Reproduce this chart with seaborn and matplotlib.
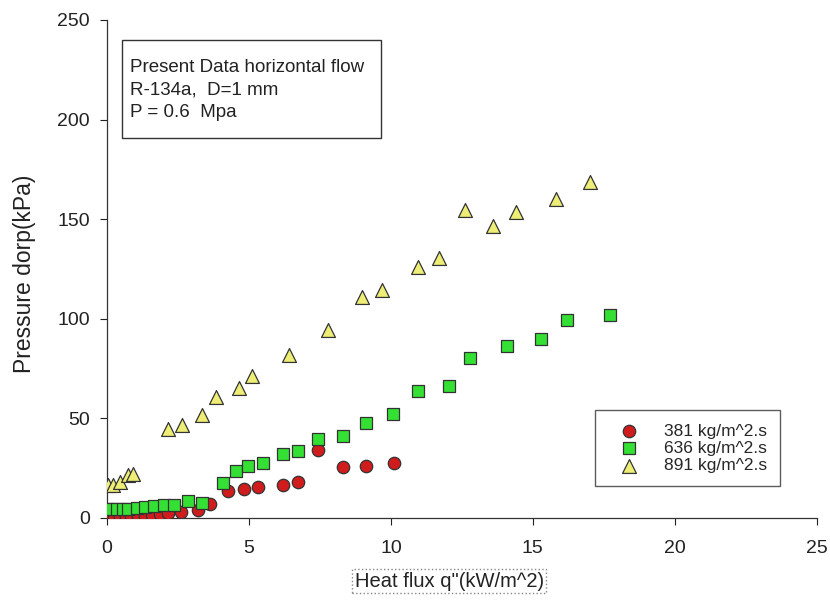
import numpy as np
import pandas as pd
import seaborn as sns
import matplotlib.pyplot as plt
from matplotlib.patches import Rectangle

# data
x381 = [0.05, 0.25, 0.45, 0.65, 0.85, 1.1, 1.35, 1.6, 1.87, 2.15, 2.6, 3.2, 3.63,
        4.26, 4.82, 5.3, 6.2, 6.73, 7.43, 8.31, 9.12, 10.1]
y381 = [0.5, 0.5, 0.5, 0.5, 0.8, 1.0, 1.2, 1.5, 1.8, 2.5, 3.0, 4.0, 7.0,
        13.6, 14.6, 15.6, 16.6, 18.0, 34.1, 25.6, 26.1, 27.6]

x636 = [0.0, 0.15, 0.35, 0.55, 0.75, 1.05, 1.35, 1.65, 2.0, 2.35, 2.85, 3.35,
        4.08, 4.54, 4.96, 5.49, 6.2, 6.73, 7.43, 8.31, 9.12, 10.07, 10.95,
        12.04, 12.78, 14.1, 15.3, 16.2, 17.7]
y636 = [4.4, 4.4, 4.4, 4.4, 4.5, 4.9, 5.4, 6.0, 6.5, 6.5, 8.5, 7.7,
        17.6, 23.6, 26.0, 27.6, 32.0, 33.6, 39.7, 41.2, 47.7, 52.2, 63.8,
        66.3, 80.3, 86.3, 89.9, 99.4, 101.9]

x891 = [0.04, 0.2, 0.46, 0.74, 0.92, 2.15, 2.64, 3.35, 3.84, 4.65, 5.1, 6.41,
        7.78, 8.98, 9.7, 10.95, 11.7, 12.6, 13.6, 14.4, 15.8, 17.0]
y891 = [16.6, 16.6, 18.0, 21.6, 22.1, 44.7, 46.7, 51.7, 60.7, 65.3, 71.3, 81.8,
        94.4, 111.0, 114.5, 126.0, 130.5, 154.6, 146.6, 153.6, 160.0, 168.7]

labels = ["381 kg/m^2.s", "636 kg/m^2.s", "891 kg/m^2.s"]
info_lines = ["Present Data horizontal flow", "R-134a,  D=1 mm", "P = 0.6  Mpa"]

df = pd.concat([
    pd.DataFrame({"q": x381, "dp": y381, "G": labels[0]}),
    pd.DataFrame({"q": x636, "dp": y636, "G": labels[1]}),
    pd.DataFrame({"q": x891, "dp": y891, "G": labels[2]}),
], ignore_index=True)

sns.set_style("ticks")
plt.rcParams["font.family"] = ["Liberation Sans", "DejaVu Sans"]

fig = plt.figure(figsize=(8.3, 6.03), dpi=100)
ax = fig.add_axes([0.129, 0.141, 0.855, 0.826])

pal = {labels[0]: "#d01c1c", labels[1]: "#33e033", labels[2]: "#eeee77"}
mk = {labels[0]: "o", labels[1]: "s", labels[2]: "^"}
sizes = {labels[0]: 80, labels[1]: 75, labels[2]: 100}

for lab in labels:
    sub = df[df["G"] == lab]
    sns.scatterplot(data=sub, x="q", y="dp", color=pal[lab], marker=mk[lab],
                    s=sizes[lab], edgecolor="#333333", linewidth=0.9,
                    label=lab, ax=ax, zorder=3)

ax.set_xlim(0, 25)
ax.set_ylim(0, 250)
ax.set_xticks([0, 5, 10, 15, 20, 25])
ax.set_yticks([0, 50, 100, 150, 200, 250])
ax.tick_params(direction="out", length=5, width=0.8, colors="#222222",
               labelsize=14, labelcolor="#222222")
ax.tick_params(axis="x", pad=11)
ax.tick_params(axis="y", pad=7.5)
sns.despine(ax=ax)
for sp in ["left", "bottom"]:
    ax.spines[sp].set_color("#333333")
    ax.spines[sp].set_linewidth(0.9)

ax.set_ylabel("Pressure dorp(kPa)", fontsize=16.5, color="#222222")
ax.yaxis.set_label_coords(-0.1, 0.49)
ax.set_xlabel('Heat flux q"(kW/m^2)', fontsize=14.5, color="#222222",
              bbox=dict(boxstyle="square,pad=0.12", fc="none", ec="#888888",
                        ls=":", lw=1))
ax.xaxis.set_label_coords(0.482, -0.108)

# info box
ax.add_patch(Rectangle((0.021, 0.763), 0.365, 0.197, transform=ax.transAxes,
                       fc="white", ec="#333333", lw=1, zorder=4))
for txt, yb in zip(info_lines, [0.896, 0.851, 0.806]):
    ax.text(0.032, yb, txt, transform=ax.transAxes, fontsize=13.5,
            va="baseline", ha="left", color="#222222", zorder=5)

leg = ax.legend(loc="lower left", bbox_to_anchor=(0.687, 0.064), fontsize=12.5,
                frameon=True, fancybox=False, edgecolor="#333333",
                borderpad=0.75, labelspacing=0.12, handletextpad=0.75,
                handlelength=2.5, borderaxespad=0)
leg.get_frame().set_linewidth(1)

fig.savefig("out.png", dpi=100)
